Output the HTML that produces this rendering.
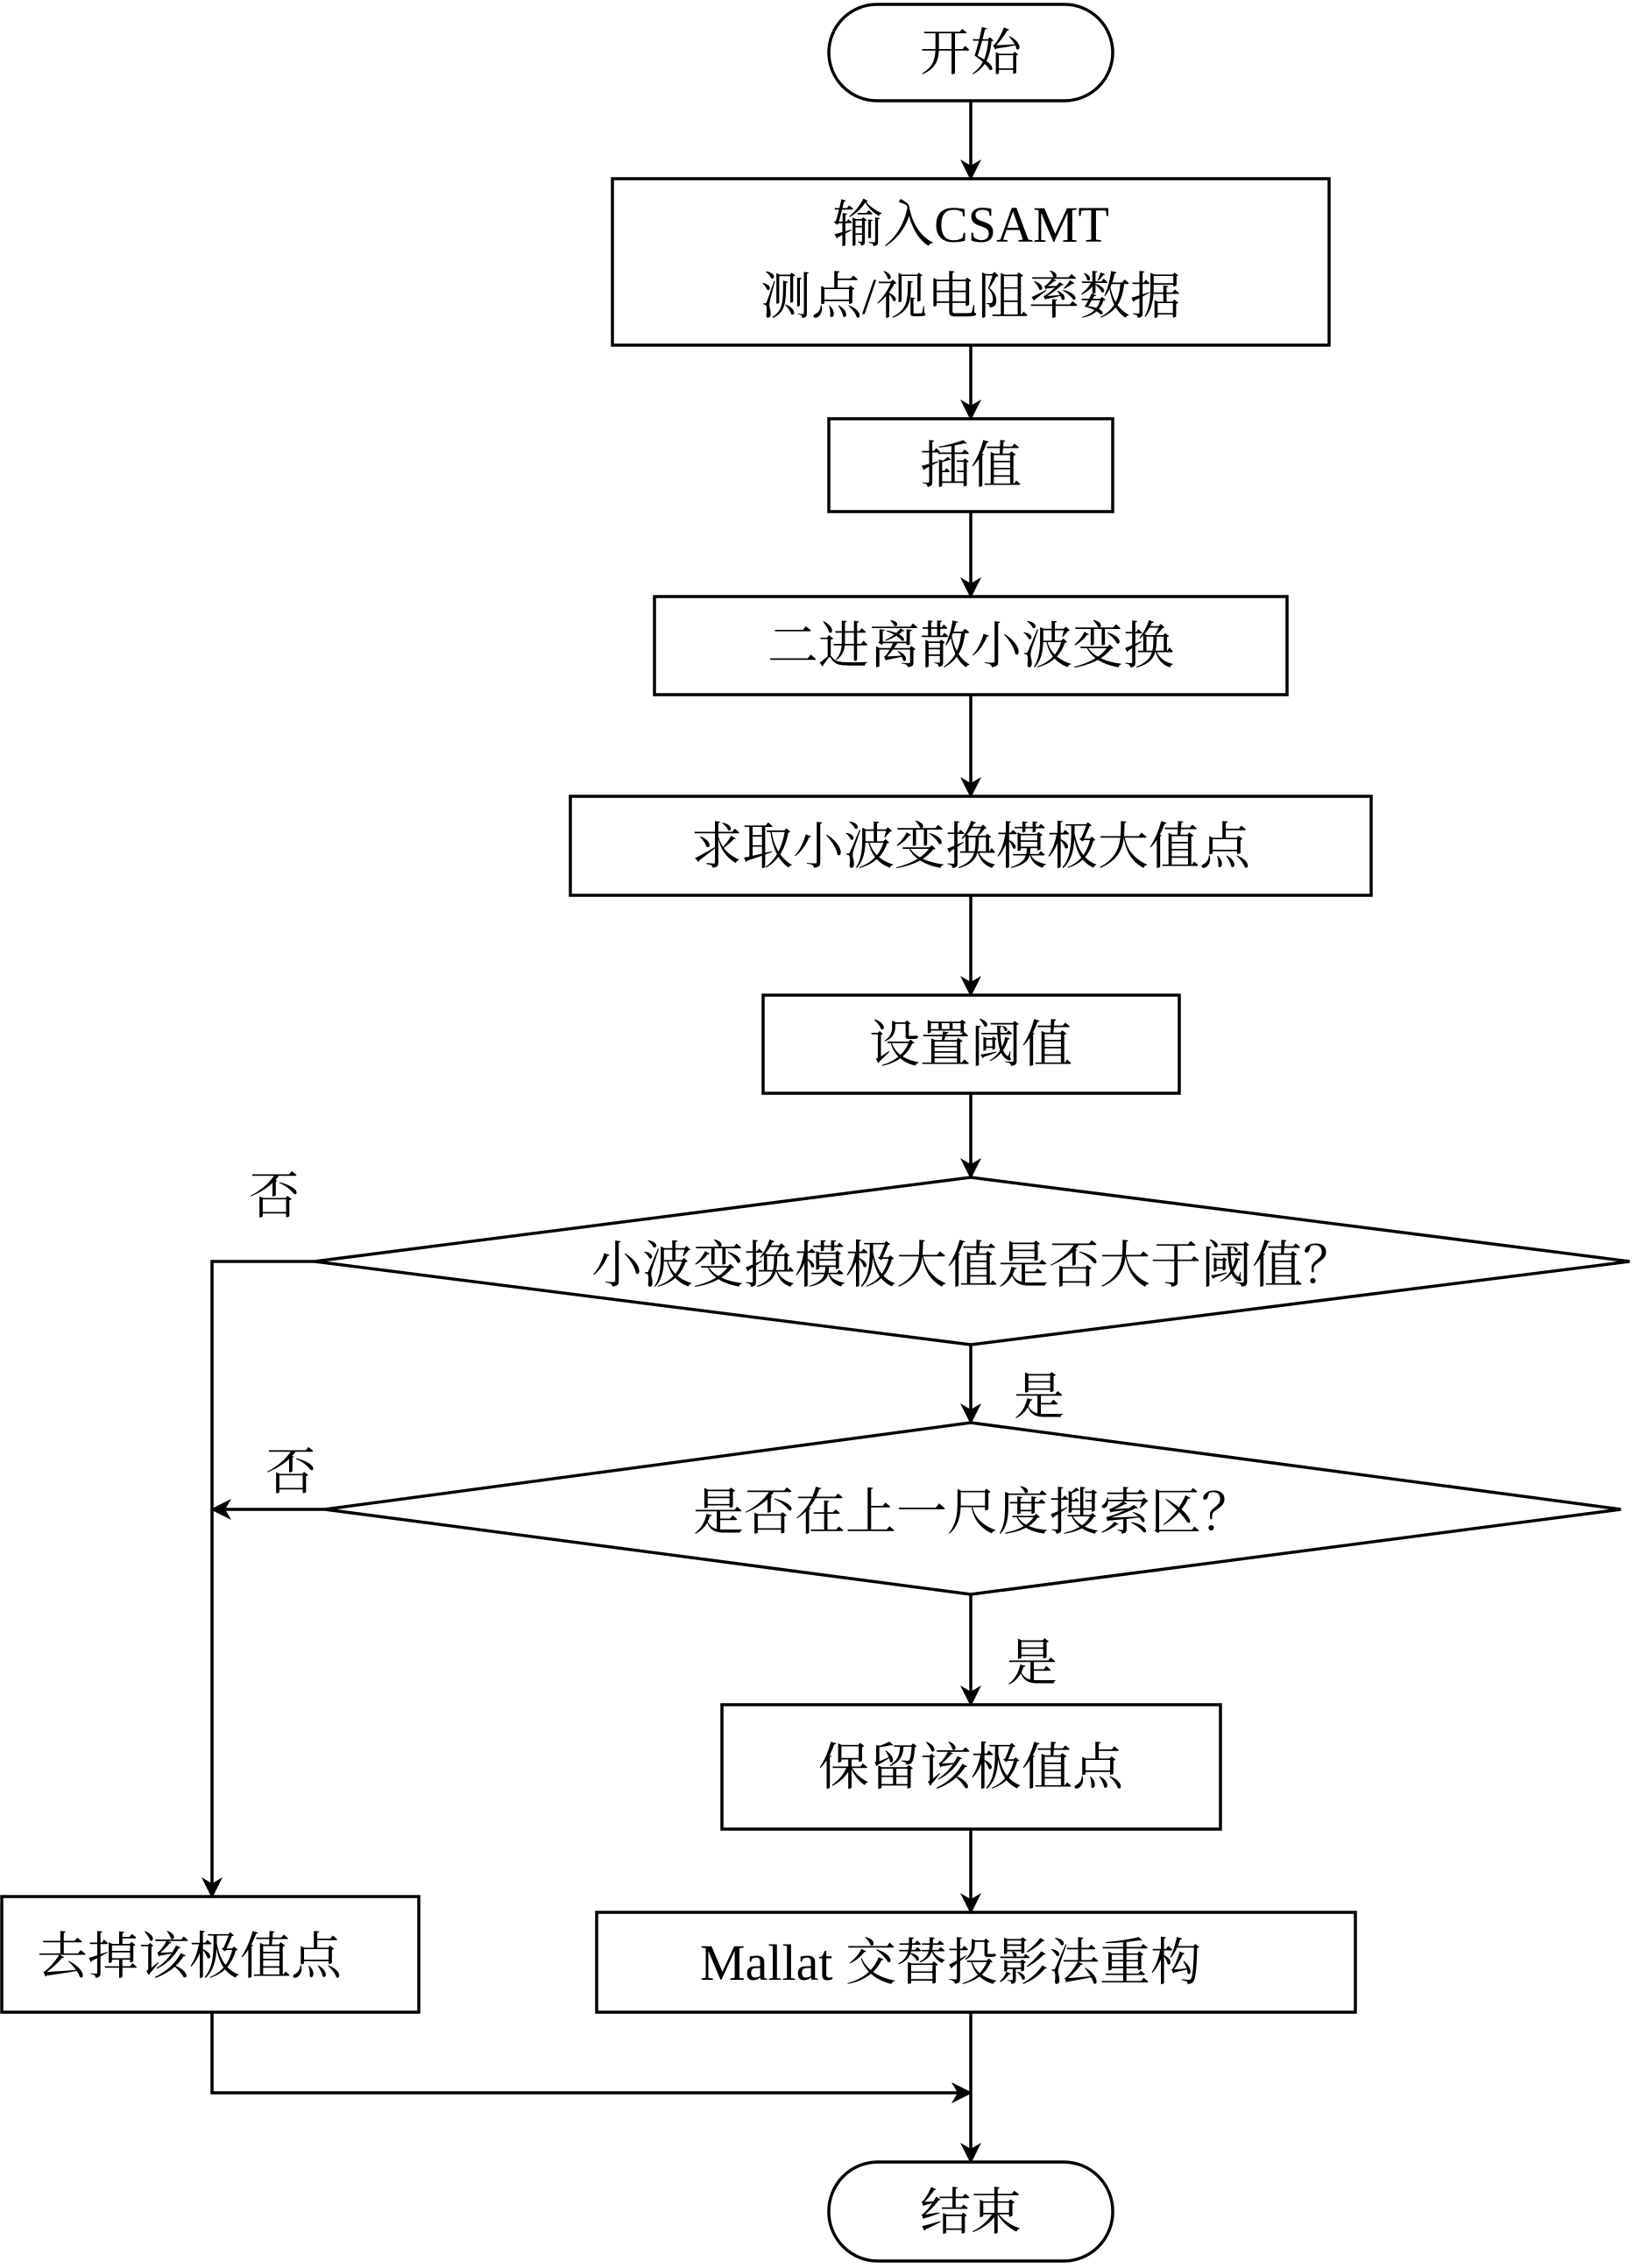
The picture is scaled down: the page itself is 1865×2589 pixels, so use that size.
<!DOCTYPE html>
<html><head><meta charset="utf-8"><style>
html,body{margin:0;padding:0;background:#fff;}
svg{display:block}
text{font-family:"Liberation Serif","Noto Serif CJK SC",serif;font-size:58px;fill:#000;}
</style></head><body>
<svg width="1865" height="2589" viewBox="0 0 1865 2589" xmlns="http://www.w3.org/2000/svg">
<defs><marker id="a" markerWidth="24" markerHeight="34" refX="22" refY="12" orient="auto" markerUnits="userSpaceOnUse"><path d="M0,0 L24,12 L0,24 L7,12 Z" fill="#000"/></marker></defs>
<g fill="none" stroke="#000" stroke-width="3.5">
<rect x="946" y="5" width="324" height="110" rx="55"/>
<rect x="699" y="204" width="818" height="190"/>
<rect x="946" y="478" width="324" height="106"/>
<rect x="747" y="681" width="722" height="112"/>
<rect x="651" y="909" width="914" height="113"/>
<rect x="871" y="1136" width="475" height="112"/>
<polygon points="359,1440 1108,1344 1860,1440 1108,1535"/>
<polygon points="371,1723 1108,1624 1850,1723 1108,1820"/>
<rect x="824" y="1946" width="569" height="142"/>
<rect x="681" y="2183" width="866" height="114"/>
<rect x="2" y="2165" width="476" height="132"/>
<rect x="946" y="2468" width="324" height="113" rx="56"/>
<g marker-end="url(#a)">
<line x1="1108" y1="115" x2="1108" y2="204"/>
<line x1="1108" y1="394" x2="1108" y2="478"/>
<line x1="1108" y1="584" x2="1108" y2="681"/>
<line x1="1108" y1="793" x2="1108" y2="909"/>
<line x1="1108" y1="1022" x2="1108" y2="1136"/>
<line x1="1108" y1="1248" x2="1108" y2="1344"/>
<line x1="1108" y1="1535" x2="1108" y2="1624"/>
<line x1="1108" y1="1820" x2="1108" y2="1946"/>
<line x1="1108" y1="2088" x2="1108" y2="2183"/>
<line x1="1108" y1="2297" x2="1108" y2="2468"/>
<line x1="371" y1="1723" x2="242" y2="1723"/>
<polyline points="359,1440 242,1440 242,2165"/>
<polyline points="242,2297 242,2389 1108,2389"/>
</g>
</g>
<g text-anchor="middle">
<text x="1108" y="80">开始</text>
<text x="1108" y="276">输入CSAMT</text>
<text x="1108" y="358">测点/视电阻率数据</text>
<text x="1108" y="551">插值</text>
<text x="1108" y="757">二进离散小波变换</text>
<text x="1108" y="986">求取小波变换模极大值点</text>
<text x="1108" y="1212">设置阈值</text>
<text x="1110" y="1464">小波变换模极大值是否大于阈值？</text>
<text x="1110" y="1746">是否在上一尺度搜索区？</text>
<text x="1108" y="2037">保留该极值点</text>
<text x="1085" y="2260">Mallat 交替投影法重构</text>
<text x="216" y="2253">去掉该极值点</text>
<text x="1108" y="2545">结束</text>
<text x="313" y="1385">否</text>
<text x="332" y="1700">否</text>
<text x="1186" y="1614">是</text>
<text x="1178" y="1918">是</text>
</g>
</svg>
</body></html>
